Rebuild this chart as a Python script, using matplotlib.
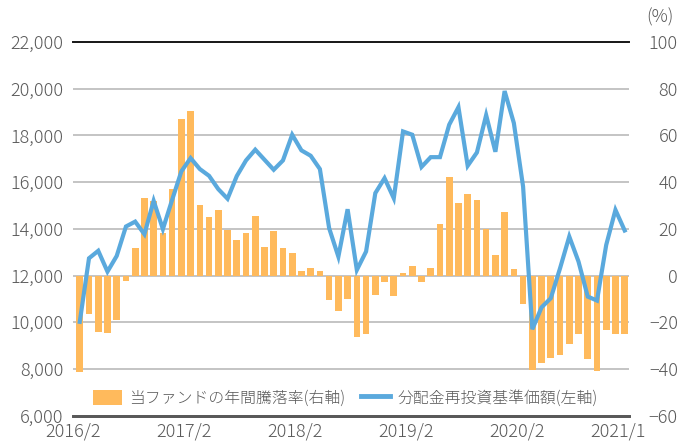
import numpy as np
import matplotlib
matplotlib.use('Agg')
import matplotlib.pyplot as plt
from matplotlib.ticker import FuncFormatter, MultipleLocator
from matplotlib.patches import Patch
from matplotlib.lines import Line2D

plt.rcParams['font.family'] = ['Noto Sans CJK JP', 'DejaVu Sans']
plt.rcParams['font.weight'] = 'light'

# ---- data ----
months = np.arange(60)  # 2016/2 ... 2021/1
tick_pos = [0, 12, 24, 36, 48, 59]
tick_labels = ['2016/2', '2017/2', '2018/2', '2019/2', '2020/2', '2021/1']

# annual change of the fund (%), right axis
yoy = [-41.4, -16.6, -24.3, -24.7, -19.1, -2.4, 12.0, 33.0, 32.0, 18.3,
       37.1, 67.1, 70.3, 30.4, 25.1, 28.1, 19.3, 15.4, 18.4, 25.7,
       12.4, 18.9, 11.6, 9.6, 2.1, 3.4, 2.1, -10.6, -15.3, -10.0,
       -26.4, -24.9, -8.4, -2.9, -8.9, 0.9, 3.9, -2.9, 3.4, 21.9,
       42.4, 31.1, 35.0, 32.4, 20.0, 8.6, 27.3, 2.6, -12.1, -40.6,
       -37.6, -35.4, -34.1, -29.4, -25.1, -35.9, -41.0, -23.3, -25.1, -25.1]

# NAV with dividends reinvested, left axis
nav = [10020, 12740, 13060, 12170, 12840, 14100, 14310, 13770, 15200, 13990,
       15240, 16460, 17030, 16560, 16270, 15700, 15290, 16260, 16930, 17390,
       16960, 16530, 16930, 18030, 17360, 17130, 16560, 14030, 12810, 14840,
       12240, 13030, 15530, 16170, 15310, 18170, 18030, 16650, 17070, 17070,
       18460, 19210, 16700, 17270, 18870, 17300, 19900, 18530, 15810, 9700,
       10640, 11030, 12310, 13670, 12600, 11100, 10930, 13310, 14810, 13930]

bar_label = '当ファンドの年間騰落率(右軸)'
line_label = '分配金再投資基準価額(左軸)'

bar_color = '#FFBA5C'
line_color = '#5AA9DD'
txt = '#595959'

fig = plt.figure(figsize=(6.78, 4.46), dpi=100)
ax1 = fig.add_axes([73.3/678, (446-415.7)/446, 556/678, 373.7/446])
ax2 = ax1.twinx()

# bars on the right scale, underneath
ax2.bar(months, yoy, width=0.72, color=bar_color, zorder=2)
ax2.set_ylim(-60, 100)
ax2.yaxis.set_major_locator(MultipleLocator(20))
ax2.grid(axis='y', color='#B4B4B4', lw=1.1, zorder=0)
ax2.set_axisbelow(True)

# line on the left scale, on top
ax1.set_zorder(ax2.get_zorder() + 1)
ax1.patch.set_visible(False)
ax1.plot(months, nav, color=line_color, lw=3.0, solid_joinstyle='miter', zorder=3)
ax1.set_ylim(6000, 22000)
ax1.yaxis.set_major_locator(MultipleLocator(2000))
ax1.yaxis.set_major_formatter(FuncFormatter(lambda v, p: f'{int(v):,}'))
ax1.set_xlim(-0.5, 59.5)
ax1.set_xticks([t - 0.7 for t in tick_pos])
ax1.set_xticklabels(tick_labels)

for ax in (ax1, ax2):
    for s in ('left', 'right'):
        ax.spines[s].set_visible(False)
    ax.spines['top'].set_color('#1A1A1A')
    ax.spines['top'].set_linewidth(1.3)
    ax.spines['bottom'].set_color('#595959')
    ax.spines['bottom'].set_linewidth(2.0)

ax1.tick_params(axis='y', length=0, pad=7, labelsize=13, labelcolor=txt)
ax1.tick_params(axis='x', length=0, pad=5, labelsize=13, labelcolor=txt)
ax2.tick_params(axis='y', length=0, pad=35, labelsize=13, labelcolor=txt)
for lab in ax2.get_yticklabels():
    lab.set_horizontalalignment('right')

fig.text(674/678, 1 - 17/446, '(%)', ha='right', va='center', fontsize=13, color=txt)

handles = [Patch(facecolor=bar_color, edgecolor='none'),
           Line2D([0], [0], color=line_color, lw=3.5)]
ax1.legend(handles, [bar_label, line_label], ncol=2, frameon=False,
           loc='center left', bbox_to_anchor=(93/678, 1 - 398/446),
           bbox_transform=fig.transFigure, fontsize=11.4, labelcolor=txt,
           handlelength=1.8, handleheight=1.1, handletextpad=0.5,
           columnspacing=1.0, borderpad=0, borderaxespad=0)

fig.savefig('out.png', dpi=100)
